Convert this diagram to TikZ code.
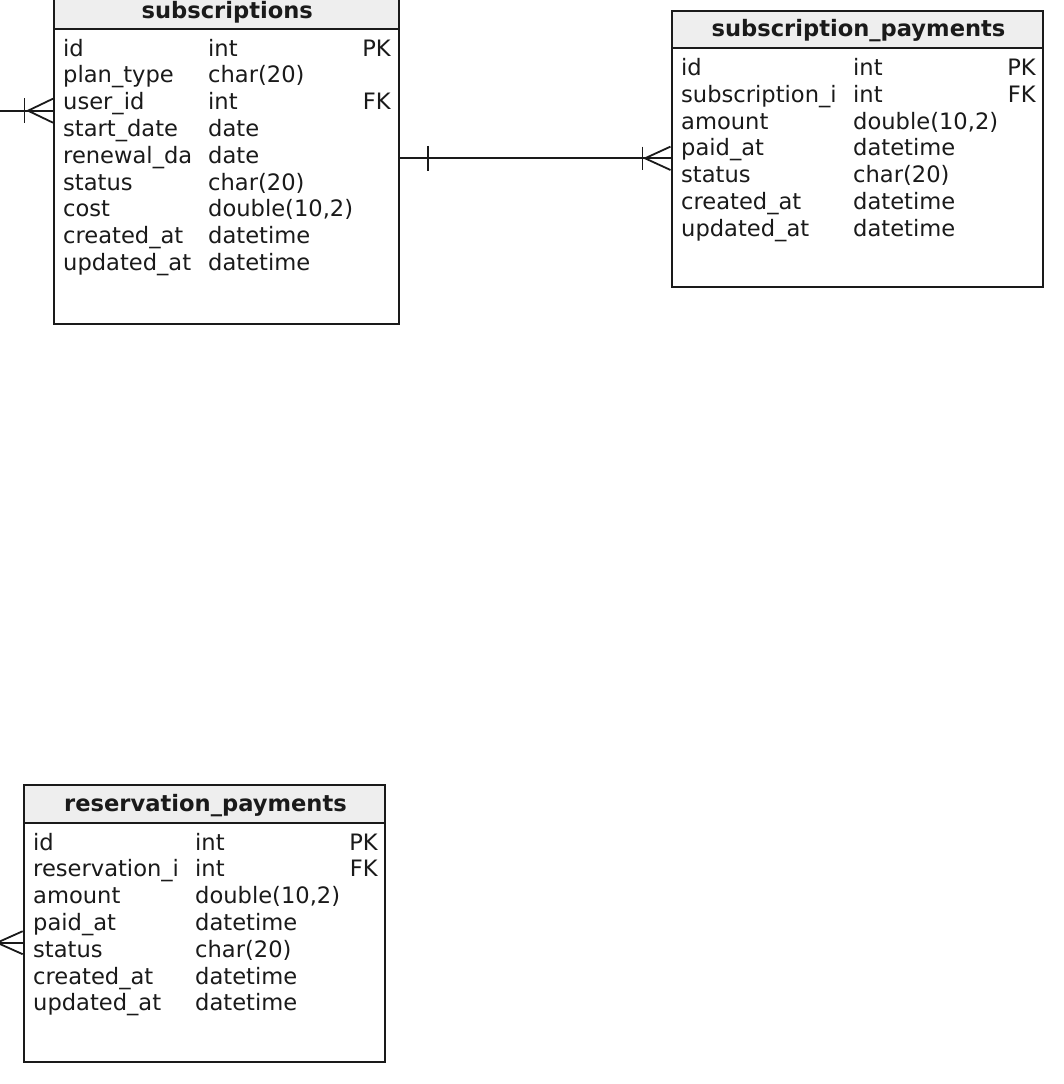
\documentclass[tikz,border=0pt]{standalone}
\usepackage{fontspec}
\setmainfont{DejaVu Sans}
\usetikzlibrary{calc}
\definecolor{headfill}{HTML}{EEEEEE}
\definecolor{ink}{HTML}{1A1A1A}
\tikzset{
  tablebody/.style={draw=ink, line width=2pt, fill=white, anchor=north west, inner sep=0pt},
  tablehead/.style={draw=ink, line width=2pt, fill=headfill, anchor=north west, inner sep=0pt},
  tabletitle/.style={font=\fontsize{22.6}{27}\selectfont\bfseries, anchor=base, inner sep=0pt, text=ink},
  cell/.style={font=\fontsize{22.6}{27}\selectfont, anchor=base west, inner sep=0pt, text=ink},
  keycell/.style={cell, anchor=base east},
  conn/.style={draw=ink, line width=1.8pt},
}
% rows: name x, type x, key right x, first baseline, list of name/type/key
\newcommand{\ertablerows}[5]{%
  \foreach \fname/\ftype/\fkey [count=\i from 0] in {#5} {
    \node[cell] at (#1, #4+\i*26.8) {\fname};
    \node[cell] at (#2, #4+\i*26.8) {\ftype};
    \node[keycell] at (#3, #4+\i*26.8) {\fkey};
  }%
}
\begin{document}
\begin{tikzpicture}[x=1pt, y=-1pt]
  \useasboundingbox (0,0) rectangle (1063,1084);

  % subscriptions
  \node[tablebody, minimum width=344.5pt, minimum height=331.7pt] (sub) at (53,-9) {};
  \node[tablehead, minimum width=344.5pt, minimum height=37pt] (subhead) at (53,-9) {};
  \node[tabletitle] (subtitle) at (227.3,18) {subscriptions};
  \ertablerows{63}{208}{391}{56}{id/int/PK, plan\_type/char(20)/{}, user\_id/int/FK,
    start\_date/date/{}, renewal\_da/date/{}, status/char(20)/{}, cost/{double(10,2)}/{},
    created\_at/datetime/{}, updated\_at/datetime/{}}

  % subscription_payments
  \node[tablebody, minimum width=371.5pt, minimum height=276pt] (subpay) at (670.5,10) {};
  \node[tablehead, minimum width=371.5pt, minimum height=37pt] (subpayhead) at (670.5,10) {};
  \node[tabletitle] (subpaytitle) at (858.5,36.5) {subscription\_payments};
  \ertablerows{681}{853}{1036}{75.5}{id/int/PK, subscription\_i/int/FK, amount/{double(10,2)}/{},
    paid\_at/datetime/{}, status/char(20)/{}, created\_at/datetime/{}, updated\_at/datetime/{}}

  % reservation_payments
  \node[tablebody, minimum width=361.3pt, minimum height=277pt] (respay) at (22.7,784) {};
  \node[tablehead, minimum width=361.3pt, minimum height=38pt] (respayhead) at (22.7,784) {};
  \node[tabletitle] (respaytitle) at (205.5,811.5) {reservation\_payments};
  \ertablerows{33}{195}{378}{850}{id/int/PK, reservation\_i/int/FK, amount/{double(10,2)}/{},
    paid\_at/datetime/{}, status/char(20)/{}, created\_at/datetime/{}, updated\_at/datetime/{}}

  % relation into subscriptions.user_id (one-or-many end)
  \coordinate (subL) at (-5,110.7);
  \coordinate (e1) at (subL -| sub.west);
  \draw[conn] (subL) -- (e1);
  \draw[conn] ($(e1)+(0,-12)$) -- ($(e1)+(-25,0)$) -- ($(e1)+(0,12)$);
  \draw[conn] ($(e1)+(-28.5,-12.5)$) -- ($(e1)+(-28.5,12.5)$);

  % subscriptions -> subscription_payments
  \coordinate (lvl2) at (0,158.3);
  \coordinate (s2) at (sub.east |- lvl2);
  \coordinate (e2) at (subpay.west |- lvl2);
  \draw[conn] (s2) -- (e2);
  \draw[conn] ($(s2)+(28.5,-12.5)$) -- ($(s2)+(28.5,12.5)$);
  \draw[conn] ($(e2)+(0,-11.7)$) -- ($(e2)+(-25.5,0)$) -- ($(e2)+(0,11.7)$);
  \draw[conn] ($(e2)+(-28,-11.7)$) -- ($(e2)+(-28,11.7)$);

  % relation into reservation_payments (many end)
  \coordinate (resL) at (-5,942.7);
  \coordinate (e3) at (resL -| respay.west);
  \draw[conn] (resL) -- (e3);
  \draw[conn] ($(e3)+(0,-11.5)$) -- ($(e3)+(-25.7,0)$) -- ($(e3)+(0,11.5)$);
\end{tikzpicture}
\end{document}
